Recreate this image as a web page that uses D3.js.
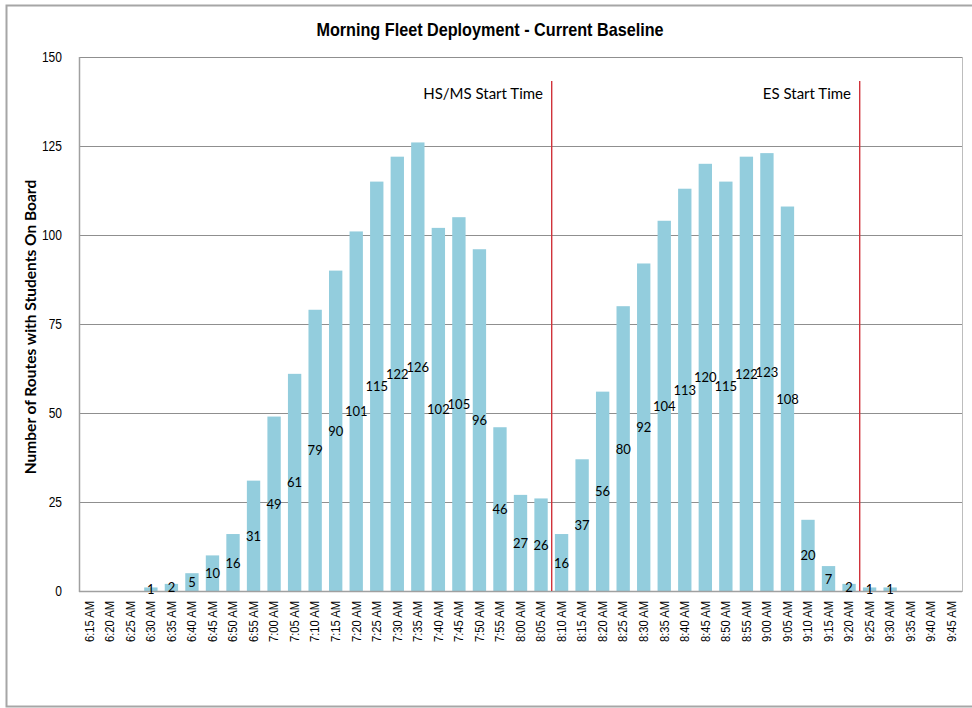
<!DOCTYPE html>
<html>
<head>
<meta charset="utf-8">
<script src="https://cdn.jsdelivr.net/npm/d3@7/dist/d3.min.js"></script>
<style>
  html, body { margin: 0; padding: 0; background: #ffffff; }
  svg { display: block; }
</style>
</head>
<body>
<svg id="chart" width="972" height="708"></svg>
<script>
// Departure time slots (5-minute steps)
const times = [
  "6:15 AM","6:20 AM","6:25 AM","6:30 AM","6:35 AM","6:40 AM","6:45 AM","6:50 AM","6:55 AM",
  "7:00 AM","7:05 AM","7:10 AM","7:15 AM","7:20 AM","7:25 AM","7:30 AM","7:35 AM","7:40 AM",
  "7:45 AM","7:50 AM","7:55 AM","8:00 AM","8:05 AM","8:10 AM","8:15 AM","8:20 AM","8:25 AM",
  "8:30 AM","8:35 AM","8:40 AM","8:45 AM","8:50 AM","8:55 AM","9:00 AM","9:05 AM","9:10 AM",
  "9:15 AM","9:20 AM","9:25 AM","9:30 AM","9:35 AM","9:40 AM","9:45 AM"
];

// Routes with students on board per slot
const routes = [
  0, 0, 0, 1, 2, 5, 10, 16, 31,
  49, 61, 79, 90, 101, 115, 122, 126, 102,
  105, 96, 46, 27, 26, 16, 37, 56, 80,
  92, 104, 113, 120, 115, 122, 123, 108, 20,
  7, 2, 1, 1, 0, 0, 0
];

// Y axis ticks
const yTicks = [0, 25, 50, 75, 100, 125, 150];

// School start markers: drawn on the boundary before the given slot
const startMarkers = [
  { label: "HS/MS Start Time", before: "8:10 AM" },
  { label: "ES Start Time", before: "9:25 AM" }
];

const svg = d3.select("#chart");
const W = 972, H = 708;
const plot = { left: 79, right: 962, top: 57, bottom: 591 };

const sans = "'Liberation Sans', Arial, sans-serif";
const body = "Lato, 'Open Sans', Calibri, sans-serif";
const squeeze = 0.86; // horizontal condensing for the narrow-style labels

// Outer chart frame
svg.append("rect")
  .attr("x", 6.5).attr("y", 5.5)
  .attr("width", W + 10).attr("height", H - 7)
  .attr("fill", "#ffffff")
  .attr("stroke", "#a6a6a6").attr("stroke-width", 2);

const x = d3.scaleBand()
  .domain(times)
  .range([plot.left, plot.right])
  .paddingInner(0.35)
  .paddingOuter(0.175);

const y = d3.scaleLinear()
  .domain([0, 150])
  .range([plot.bottom, plot.top]);

// Gridlines
svg.append("g")
  .selectAll("line")
  .data(yTicks)
  .join("line")
  .attr("x1", plot.left).attr("x2", plot.right)
  .attr("y1", d => Math.round(y(d)) + 0.5).attr("y2", d => Math.round(y(d)) + 0.5)
  .attr("stroke", "#8f8f8f").attr("stroke-width", 1);

// Plot area sides
svg.append("line")
  .attr("x1", plot.left + 0.5).attr("x2", plot.left + 0.5)
  .attr("y1", plot.top).attr("y2", plot.bottom + 1)
  .attr("stroke", "#a0a0a0").attr("stroke-width", 1.5);
svg.append("line")
  .attr("x1", plot.right + 0.5).attr("x2", plot.right + 0.5)
  .attr("y1", plot.top).attr("y2", plot.bottom + 1)
  .attr("stroke", "#bdbdbd").attr("stroke-width", 1);

// Y axis
const yAxis = svg.append("g")
  .attr("transform", `translate(${plot.left},0)`)
  .call(d3.axisLeft(y).tickValues(yTicks).tickSize(0).tickPadding(0));
yAxis.select(".domain").remove();
yAxis.selectAll("text")
  .attr("font-family", sans)
  .attr("font-size", 14)
  .attr("fill", "#000")
  .attr("x", -17 / squeeze)
  .attr("transform", `scale(${squeeze},1)`);

// Bars
svg.append("g")
  .selectAll("rect")
  .data(routes)
  .join("rect")
  .attr("x", (d, i) => x(times[i]))
  .attr("width", x.bandwidth())
  .attr("y", d => y(d))
  .attr("height", d => y(0) - y(d))
  .attr("fill", "#93cddd");

// Baseline
svg.append("line")
  .attr("x1", plot.left).attr("x2", plot.right)
  .attr("y1", plot.bottom + 0.5).attr("y2", plot.bottom + 0.5)
  .attr("stroke", "#a0a0a0").attr("stroke-width", 1.5);

// Data labels, centred on each bar (skipped for empty slots)
svg.append("g")
  .selectAll("text")
  .data(routes.map((v, i) => ({ v, t: times[i] })).filter(d => d.v > 0))
  .join("text")
  .attr("x", d => x(d.t) + x.bandwidth() / 2)
  .attr("y", d => y(d.v / 2))
  .attr("text-anchor", "middle")
  .attr("dominant-baseline", "central")
  .attr("font-family", body)
  .attr("font-size", 13)
  .attr("fill", "#000")
  .text(d => d.v);

// X axis labels (rotated, condensed)
const xAxis = svg.append("g")
  .attr("transform", `translate(0,${plot.bottom})`)
  .call(d3.axisBottom(x).tickSize(0).tickPadding(0));
xAxis.select(".domain").remove();
xAxis.selectAll("text")
  .attr("font-family", sans)
  .attr("font-size", 13)
  .attr("fill", "#000")
  .attr("text-anchor", "end")
  .attr("dominant-baseline", "central")
  .attr("transform", `translate(0,10) rotate(-90) scale(${squeeze},1)`)
  .attr("x", 0).attr("y", 0).attr("dy", null);

// Start-time markers
const step = x.step();
startMarkers.forEach(m => {
  const mx = Math.round(x(m.before) - (step - x.bandwidth()) / 2);
  svg.append("rect")
    .attr("x", mx).attr("y", 81)
    .attr("width", 1.4).attr("height", plot.bottom - 81)
    .attr("fill", "#d0333b");
  svg.append("text")
    .attr("x", mx - 8).attr("y", 93)
    .attr("text-anchor", "end")
    .attr("dominant-baseline", "central")
    .attr("font-family", body)
    .attr("font-size", 15)
    .attr("fill", "#000")
    .text(m.label);
});

// Title
svg.append("text")
  .attr("transform", `translate(490,30) scale(0.9,1)`)
  .attr("text-anchor", "middle")
  .attr("dominant-baseline", "central")
  .attr("font-family", sans)
  .attr("font-weight", "bold")
  .attr("font-size", 18)
  .attr("fill", "#000")
  .text("Morning Fleet Deployment - Current Baseline");

// Y axis title
svg.append("text")
  .attr("transform", `translate(30,${(plot.top + plot.bottom) / 2 + 3}) rotate(-90)`)
  .attr("text-anchor", "middle")
  .attr("dominant-baseline", "central")
  .attr("font-family", body)
  .attr("font-weight", "bold")
  .attr("font-size", 15.5)
  .attr("fill", "#000")
  .text("Number of Routes with Students On Board");
</script>
</body>
</html>
